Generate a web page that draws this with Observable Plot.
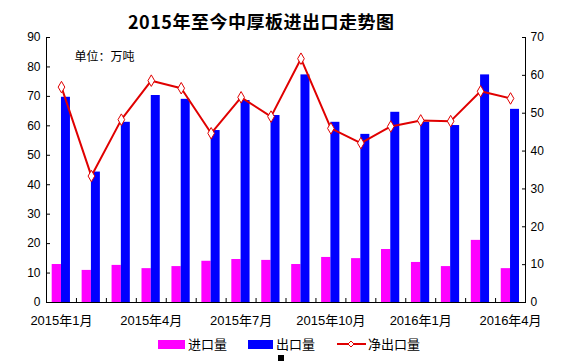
<!DOCTYPE html>
<html>
<head>
<meta charset="utf-8">
<script src="https://cdn.jsdelivr.net/npm/d3@7"></script>
<script src="https://cdn.jsdelivr.net/npm/@observablehq/plot@0.6"></script>
<style>
  html, body { margin: 0; padding: 0; background: #fff; }
  #wrap { position: relative; width: 566px; height: 363px; overflow: hidden; font-family: "Liberation Sans", Arial, "Noto Sans CJK SC", sans-serif; }
  #title { position: absolute; top: 8px; left: 128px; white-space: nowrap; font: bold 18px "Noto Sans CJK SC", sans-serif; line-height: 26px; color: #000; letter-spacing: 0.5px; }
  #chart { position: absolute; top: 30px; left: 0; }
  .lg { position: absolute; font: 13px "Noto Sans CJK SC", sans-serif; color: #000; line-height: 16px; }
  .sw { position: absolute; }
</style>
</head>
<body>
<div id="wrap">
  <div id="title">2015年至今中厚板进出口走势图</div>
  <div id="chart"></div>
  <div id="legend"></div>
</div>
<script>
const months = ["2015年1月","2015年2月","2015年3月","2015年4月","2015年5月","2015年6月","2015年7月","2015年8月","2015年9月","2015年10月","2015年11月","2015年12月","2016年1月","2016年2月","2016年3月","2016年4月"];
const imports = [12.9,10.9,12.6,11.5,12.2,14.0,14.6,14.3,12.9,15.3,14.9,18.0,13.6,12.2,21.1,11.5];
const exportsV = [69.7,44.3,61.2,70.3,69.0,58.4,68.6,63.5,77.3,61.2,57.1,64.6,61.2,60.1,77.3,65.6];
const net = [56.9,33.4,48.3,58.6,56.6,44.7,54.2,49.1,64.4,46.0,42.1,46.5,48.1,47.9,55.8,53.9];
const shownLabels = ["2015年1月","2015年4月","2015年7月","2015年10月","2016年1月","2016年4月"];
const leftTicks = [0,10,20,30,40,50,60,70,80,90];
const rightTicks = [0,10,20,30,40,50,60,70];
const seriesNames = ["进口量","出口量","净出口量"];
const colors = ["#ff00ff","#0000ff","#e00000"];

const LMAX = 90, RMAX = 70;
const rows = months.map((m, i) => ({m, i, imp: imports[i], exp: exportsV[i], net: net[i]}));
const labelPos = shownLabels.map(l => months.indexOf(l) + 0.5);

const chart = Plot.plot({
  width: 566,
  height: 300,
  marginTop: 7,
  marginBottom: 28,
  marginLeft: 46,
  marginRight: 41,
  style: {fontFamily: '"Liberation Sans", Arial, "Noto Sans CJK SC", sans-serif', fontSize: "12px", color: "#000", background: "#fff"},
  x: {domain: [0, months.length], axis: null},
  y: {domain: [0, LMAX], axis: null},
  marks: [
    Plot.rectY(rows, {x1: d => d.i + 0.19, x2: d => d.i + 0.5, y: "imp", fill: colors[0]}),
    Plot.rectY(rows, {x1: d => d.i + 0.5, x2: d => d.i + 0.8, y: "exp", fill: colors[1]}),
    Plot.line(rows, {x: d => d.i + 0.5, y: d => d.net * LMAX / RMAX, stroke: colors[2], strokeWidth: 2}),
    Plot.dot(rows, {x: d => d.i + 0.5, y: d => d.net * LMAX / RMAX, symbol: "diamond", r: 3.5, fill: "#fff", stroke: colors[2], strokeWidth: 1}),
    Plot.ruleX([0, months.length], {y1: 0, y2: LMAX, stroke: "#000"}),
    Plot.ruleY([0], {stroke: "#000"}),
    Plot.axisY(leftTicks, {anchor: "left", tickSize: -4, tickPadding: 10, label: null, fontSize: 12}),
    Plot.axisY(rightTicks.map(v => v * LMAX / RMAX), {anchor: "right", tickSize: -4, tickPadding: 9, label: null, tickFormat: v => Math.round(v * RMAX / LMAX), fontSize: 12}),
    Plot.axisX(d3.range(1, months.length), {anchor: "bottom", tickSize: -4, tickFormat: () => "", label: null}),
    Plot.axisX(labelPos, {anchor: "bottom", tickSize: 0, tickPadding: 13, label: null, tickFormat: v => months[Math.round(v - 0.5)], fontSize: 13}),
    Plot.text(["单位：万吨"], {frameAnchor: "top-left", dx: 28, dy: 15, textAnchor: "start", fontSize: 12, fontFamily: '"Noto Sans CJK SC", sans-serif', fill: "#000"})
  ]
});
document.getElementById("chart").appendChild(chart);

// legend
const lg = document.getElementById("legend");
function add(html) { lg.insertAdjacentHTML("beforeend", html); }
add(`<div class="sw" style="left:158px;top:340px;width:27px;height:9px;background:${colors[0]}"></div>`);
add(`<div class="lg" style="left:188px;top:336px">${seriesNames[0]}</div>`);
add(`<div class="sw" style="left:248px;top:340px;width:25px;height:9px;background:${colors[1]}"></div>`);
add(`<div class="lg" style="left:276px;top:336px">${seriesNames[1]}</div>`);
add(`<svg class="sw" style="left:337px;top:339px" width="29" height="10"><line x1="0" y1="5" x2="29" y2="5" stroke="${colors[2]}" stroke-width="2"/><path d="M14,2L17,5L14,8L11,5Z" fill="#fff" stroke="${colors[2]}" stroke-width="1"/></svg>`);
add(`<div class="lg" style="left:368px;top:336px">${seriesNames[2]}</div>`);
add(`<div class="sw" style="left:278px;top:355px;width:6px;height:6px;background:#000"></div>`);
</script>
</body>
</html>
